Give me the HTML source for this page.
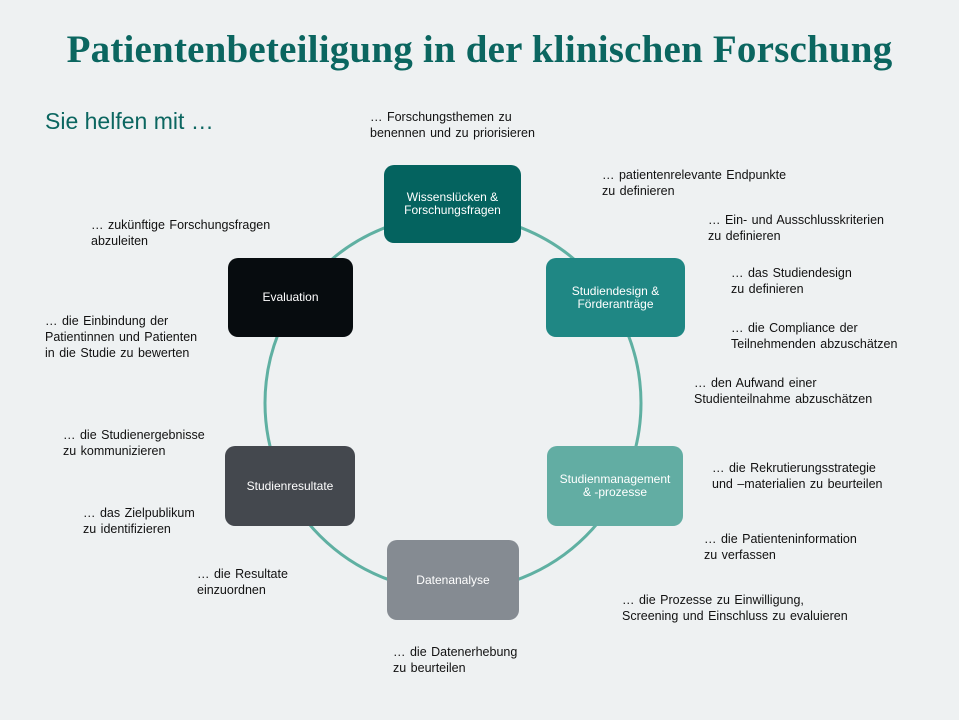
<!DOCTYPE html>
<html><head><meta charset="utf-8"><style>
body{margin:0;width:959px;height:720px;background:#eef1f2;position:relative;overflow:hidden;font-family:"Liberation Sans",Arial,sans-serif}
.t{position:absolute;font-size:12.5px;line-height:16px;color:#111;white-space:nowrap;word-spacing:1px}
.b{position:absolute;border-radius:10px;color:#fff;font-size:12px;line-height:13px;display:flex;align-items:center;justify-content:center;text-align:center}
h1{position:absolute;left:0;width:959px;top:27px;margin:0;text-align:center;font-family:"Liberation Serif",serif;font-size:39px;letter-spacing:0.2px;color:#0b6660;font-weight:bold}
</style></head><body>
<h1>Patientenbeteiligung in der klinischen Forschung</h1>
<div style="position:absolute;left:45px;top:108px;font-size:23px;color:#0b6660">Sie helfen mit …</div>
<svg width="959" height="720" style="position:absolute;left:0;top:0"><circle cx="453" cy="403" r="188" fill="none" stroke="#5fb0a2" stroke-width="3"/></svg>
<div class="b" style="left:384px;top:165px;width:137px;height:78px;background:#04635f">Wissenslücken &amp;<br>Forschungsfragen</div>
<div class="b" style="left:546px;top:258px;width:139px;height:79px;background:#1f8784">Studiendesign &amp;<br>Förderanträge</div>
<div class="b" style="left:547px;top:446px;width:136px;height:80px;background:#62ada3">Studienmanagement<br>&amp; -prozesse</div>
<div class="b" style="left:387px;top:540px;width:132px;height:80px;background:#858b92">Datenanalyse</div>
<div class="b" style="left:225px;top:446px;width:130px;height:80px;background:#44484e">Studienresultate</div>
<div class="b" style="left:228px;top:258px;width:125px;height:79px;background:#070c0f">Evaluation</div>
<div class="t" style="left:370px;top:109px">… Forschungsthemen zu<br>benennen und zu priorisieren</div>
<div class="t" style="left:602px;top:167px">… patientenrelevante Endpunkte<br>zu definieren</div>
<div class="t" style="left:708px;top:212px">… Ein- und Ausschlusskriterien<br>zu definieren</div>
<div class="t" style="left:731px;top:265px">… das Studiendesign<br>zu definieren</div>
<div class="t" style="left:731px;top:320px">… die Compliance der<br>Teilnehmenden abzuschätzen</div>
<div class="t" style="left:694px;top:375px">… den Aufwand einer<br>Studienteilnahme abzuschätzen</div>
<div class="t" style="left:712px;top:460px">… die Rekrutierungsstrategie<br>und –materialien zu beurteilen</div>
<div class="t" style="left:704px;top:531px">… die Patienteninformation<br>zu verfassen</div>
<div class="t" style="left:622px;top:592px">… die Prozesse zu Einwilligung,<br>Screening und Einschluss zu evaluieren</div>
<div class="t" style="left:393px;top:644px">… die Datenerhebung<br>zu beurteilen</div>
<div class="t" style="left:197px;top:566px">… die Resultate<br>einzuordnen</div>
<div class="t" style="left:83px;top:505px">… das Zielpublikum<br>zu identifizieren</div>
<div class="t" style="left:63px;top:427px">… die Studienergebnisse<br>zu kommunizieren</div>
<div class="t" style="left:45px;top:313px">… die Einbindung der<br>Patientinnen und Patienten<br>in die Studie zu bewerten</div>
<div class="t" style="left:91px;top:217px">… zukünftige Forschungsfragen<br>abzuleiten</div>
</body></html>
